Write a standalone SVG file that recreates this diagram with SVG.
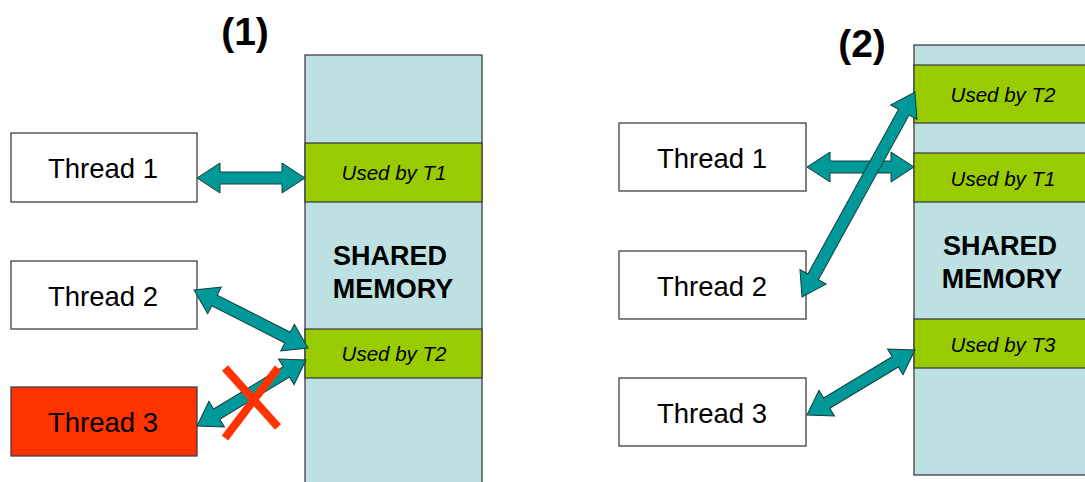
<svg xmlns="http://www.w3.org/2000/svg" width="1085" height="482" viewBox="0 0 1085 482">
<style>
.thread{fill:#fff;stroke:#404040;stroke-width:1.3}
.red{fill:#ff3300}
.mem{fill:#bde0e3;stroke:#404040;stroke-width:1.3}
.used{fill:#99cc00;stroke:#404040;stroke-width:1.3}
.tl{font-family:"Liberation Sans",Arial,sans-serif;font-size:27.5px;fill:#000;text-anchor:middle}
.ul{font-family:"Liberation Sans",Arial,sans-serif;font-size:20.5px;font-style:italic;fill:#000;text-anchor:middle}
.sm{font-family:"Liberation Sans",Arial,sans-serif;font-size:27px;font-weight:bold;fill:#000;text-anchor:middle}
.title{font-family:"Liberation Sans",Arial,sans-serif;font-size:39px;font-weight:bold;fill:#000;text-anchor:middle}
.arr{fill:#009999;stroke:#1a3a3a;stroke-width:1;stroke-linejoin:miter}
.x{stroke:#ff3300;stroke-width:8;fill:none}
</style>
<text class="title" x="245" y="45">(1)</text>
<text class="title" x="862" y="57">(2)</text>
<g id="mem1">
<rect class="mem" x="305" y="55" width="177" height="440"/>
<rect class="used" x="305" y="143" width="177" height="59"/>
<text class="ul" x="394" y="180">Used by T1</text>
<rect class="used" x="305" y="329" width="177" height="49"/>
<text class="ul" x="394" y="361">Used by T2</text>
<text class="sm" x="390" y="265">SHARED</text>
<text class="sm" x="393" y="298">MEMORY</text>
</g>
<g id="l-thread1"><rect class="thread" x="11" y="133" width="186" height="69"/><text class="tl" x="103" y="178">Thread 1</text></g>
<g id="l-thread2"><rect class="thread" x="11" y="261" width="186" height="68"/><text class="tl" x="103" y="306">Thread 2</text></g>
<g id="l-thread3"><rect class="thread red" x="11" y="387" width="186" height="69"/><text class="tl" x="103" y="432">Thread 3</text></g>
<g id="mem2">
<rect class="mem" x="914" y="45" width="200" height="430"/>
<rect class="used" x="914" y="65" width="200" height="58"/>
<text class="ul" x="1003" y="102">Used by T2</text>
<rect class="used" x="914" y="153" width="200" height="49"/>
<text class="ul" x="1003" y="186">Used by T1</text>
<rect class="used" x="914" y="319" width="200" height="49"/>
<text class="ul" x="1003" y="352">Used by T3</text>
<text class="sm" x="1000" y="255">SHARED</text>
<text class="sm" x="1002" y="288">MEMORY</text>
</g>
<g id="r-thread1"><rect class="thread" x="619" y="123" width="187" height="68"/><text class="tl" x="712" y="168">Thread 1</text></g>
<g id="r-thread2"><rect class="thread" x="619" y="251" width="187" height="68"/><text class="tl" x="712" y="296">Thread 2</text></g>
<g id="r-thread3"><rect class="thread" x="619" y="378" width="187" height="68"/><text class="tl" x="712" y="423">Thread 3</text></g>
<g id="connectors">
<polygon class="arr" transform="translate(197,178)" points="0,0 23,-15 23,-6 85,-6 85,-15 108,0 85,15 85,6 23,6 23,15"/>
<polygon class="arr" transform="translate(194,290) rotate(26.97)" points="0,0 23,-15 23,-6 105,-6 105,-15 128,0 105,15 105,6 23,6 23,15"/>
<polygon class="arr" transform="translate(197,426) rotate(-31.2)" points="0,0 23,-15 23,-6 104.4,-6 104.4,-15 127.4,0 104.4,15 104.4,6 23,6 23,15"/>
<polygon class="arr" transform="translate(807,167)" points="0,0 23,-15 23,-6 84,-6 84,-15 107,0 84,15 84,6 23,6 23,15"/>
<polygon class="arr" transform="translate(802,297) rotate(-61.14)" points="0,0 23,-15 23,-6 211,-6 211,-15 234,0 211,15 211,6 23,6 23,15"/>
<polygon class="arr" transform="translate(807,415) rotate(-31.04)" points="0,0 23,-15 23,-6 103,-6 103,-15 126,0 103,15 103,6 23,6 23,15"/>
</g>
<g id="cross">
<line class="x" x1="225" y1="368" x2="278" y2="427"/>
<line class="x" x1="278" y1="368" x2="225" y2="438"/>
</g>
</svg>
